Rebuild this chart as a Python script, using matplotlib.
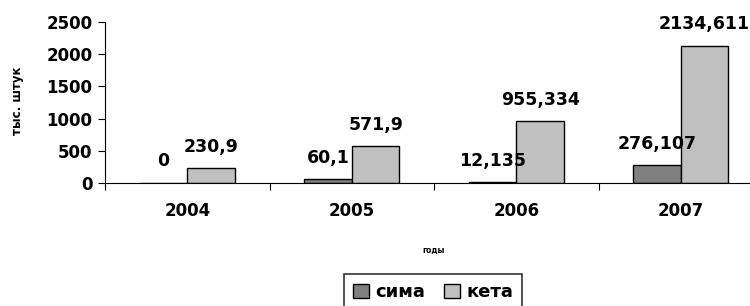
import numpy as np
import matplotlib
matplotlib.use('Agg')
import matplotlib.pyplot as plt

plt.rcParams['font.family'] = ['DejaVu Sans']
plt.rcParams['font.weight'] = 'bold'

years = ['2004', '2005', '2006', '2007']
sima = [0, 60.1, 12.135, 276.107]
keta = [230.9, 571.9, 955.334, 2134.611]
sima_labels = ['0', '60,1', '12,135', '276,107']
keta_labels = ['230,9', '571,9', '955,334', '2134,611']
yticks = [0, 500, 1000, 1500, 2000, 2500]

fig = plt.figure(figsize=(7.5, 3.06), dpi=100)
ax = fig.add_axes([105 / 750, 123 / 306, 658 / 750, 161 / 306])

x = np.arange(len(years))
w = 0.29
b1 = ax.bar(x - w / 2, sima, w, color='#808080', edgecolor='black', linewidth=1, label='сима')
b2 = ax.bar(x + w / 2, keta, w, color='#c0c0c0', edgecolor='black', linewidth=1, label='кета')

for bars, labels in ((b1, sima_labels), (b2, keta_labels)):
    for rect, lab in zip(bars, labels):
        ax.annotate(lab, (rect.get_x() + rect.get_width() / 2, rect.get_height()),
                    xytext=(0, 9), textcoords='offset points', ha='center', va='bottom',
                    fontsize=12.5, fontweight='bold', clip_on=False)

ax.set_xlim(-0.5, 3.5)
ax.set_ylim(0, 2500)
ax.set_yticks(yticks)
ax.set_yticklabels([str(v) for v in yticks], fontsize=12, fontweight='bold')
ax.tick_params(axis='y', length=5, direction='out', pad=4)

# tick marks between the categories, labels at the centres
ax.set_xticks(np.arange(-0.5, 4, 1.0))
ax.set_xticklabels([])
ax.tick_params(axis='x', length=5, direction='out')
ax.set_xticks(x, minor=True)
ax.set_xticklabels(years, minor=True, fontsize=12, fontweight='bold')
ax.tick_params(axis='x', which='minor', length=0, pad=14)

for s in ('top', 'right'):
    ax.spines[s].set_visible(False)

ax.set_ylabel('тыс. штук', fontsize=8.5, fontweight='bold')
ax.yaxis.set_label_coords(-0.123, 0.51)
ax.set_xlabel('годы', fontsize=5.5, fontweight='bold')
ax.xaxis.set_label_coords(0.5, -0.39)

leg = fig.legend(handles=[b1, b2], loc='center', bbox_to_anchor=(433 / 750, 0.045),
                 ncol=2, frameon=True, fancybox=False, edgecolor='black',
                 prop={'size': 13, 'weight': 'bold'}, handlelength=0.9, handleheight=0.9,
                 handletextpad=0.35, columnspacing=1.0, borderpad=0.5)
leg.get_frame().set_linewidth(1.2)

fig.savefig('out.png', dpi=100)
